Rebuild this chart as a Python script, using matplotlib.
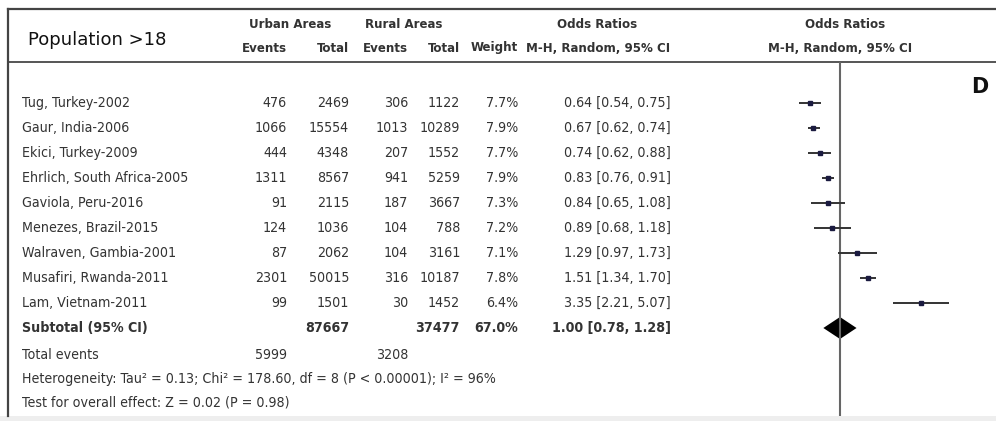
import numpy as np
import matplotlib.pyplot as plt
from matplotlib import font_manager
from matplotlib.font_manager import FontProperties
from matplotlib.textpath import TextPath

studies = ["Tug, Turkey-2002", "Gaur, India-2006", "Ekici, Turkey-2009",
           "Ehrlich, South Africa-2005", "Gaviola, Peru-2016", "Menezes, Brazil-2015",
           "Walraven, Gambia-2001", "Musafiri, Rwanda-2011", "Lam, Vietnam-2011"]
urban_events = [476, 1066, 444, 1311, 91, 124, 87, 2301, 99]
urban_total = [2469, 15554, 4348, 8567, 2115, 1036, 2062, 50015, 1501]
rural_events = [306, 1013, 207, 941, 187, 104, 104, 316, 30]
rural_total = [1122, 10289, 1552, 5259, 3667, 788, 3161, 10187, 1452]
weights = [7.7, 7.9, 7.7, 7.9, 7.3, 7.2, 7.1, 7.8, 6.4]
odds = [0.64, 0.67, 0.74, 0.83, 0.84, 0.89, 1.29, 1.51, 3.35]
ci_low = [0.54, 0.62, 0.62, 0.76, 0.65, 0.68, 0.97, 1.34, 2.21]
ci_high = [0.75, 0.74, 0.88, 0.91, 1.08, 1.18, 1.73, 1.70, 5.07]

sub_urban_total = 87667
sub_rural_total = 37477
sub_weight = 67.0
sub_or, sub_low, sub_high = 1.00, 0.78, 1.28
events_urban, events_rural = 5999, 3208
het_text = "Heterogeneity: Tau\u00b2 = 0.13; Chi\u00b2 = 178.60, df = 8 (P < 0.00001); I\u00b2 = 96%"
effect_text = "Test for overall effect: Z = 0.02 (P = 0.98)"


def find_font(candidates):
    files = [f.fname for f in font_manager.fontManager.ttflist]
    for c in candidates:
        for f in files:
            if f.endswith(c):
                return FontProperties(fname=f)
    return FontProperties(family="DejaVu Sans")


fp_reg = find_font(["LiberationSansNarrow-Regular.ttf", "DejaVuSansCondensed.ttf"])
fp_bold = find_font(["LiberationSansNarrow-Bold.ttf", "DejaVuSansCondensed-Bold.ttf"])


def fit_size(s, fp, target_px, base=10.0):
    w = TextPath((0, 0), s, size=base, prop=fp).get_extents().width
    return base * target_px / (w * 100 / 72)


fs = fit_size(het_text, fp_reg, 472)
fs_b = fit_size("M-H, Random, 95% CI", fp_bold, 142)

W, H = 996, 421
fig = plt.figure(figsize=(W / 100, H / 100), dpi=100)
ax = fig.add_axes([0, 0, 1, 1])
ax.set_xlim(0, W)
ax.set_ylim(H, 0)
ax.axis("off")

txt = "#333333"
row_y = 103 + 25 * np.arange(len(studies) + 1)

# frame lines
ax.plot([8, W], [9, 9], color="#444444", lw=1.6)
ax.plot([8, W], [61.5, 61.5], color="#555555", lw=1.4)
ax.plot([8, 8], [9, 416], color="#444444", lw=1.6)
ax.axhspan(416, H, color="#eeeeee", lw=0)

# header
ax.text(28, 40, "Population >18", fontsize=13, family="DejaVu Sans",
        color="#111111", va="center", ha="left")
hdr = dict(fontproperties=fp_bold, color=txt, va="center")
for x, y, s, ha in [
        (290, 24, "Urban Areas", "center"), (404, 24, "Rural Areas", "center"),
        (597, 24, "Odds Ratios", "center"), (845, 24, "Odds Ratios", "center"),
        (287, 48, "Events", "right"), (349, 48, "Total", "right"),
        (408, 48, "Events", "right"), (460, 48, "Total", "right"),
        (518, 48, "Weight", "right"), (670, 48, "M-H, Random, 95% CI", "right"),
        (840, 48, "M-H, Random, 95% CI", "center")]:
    t = ax.text(x, y, s, ha=ha, **hdr)
    t.set_fontsize(fs_b)
ax.text(980, 87, "D", fontsize=15, family="DejaVu Sans", weight="bold",
        color="#111111", ha="center", va="center")


def put(x, y, s, ha, fp=fp_reg, size=None):
    t = ax.text(x, y, s, ha=ha, va="center", color=txt, fontproperties=fp)
    t.set_fontsize(size or fs)


for i, name in enumerate(studies):
    y = row_y[i]
    put(22, y, name, "left")
    put(287, y, str(urban_events[i]), "right")
    put(349, y, str(urban_total[i]), "right")
    put(408, y, str(rural_events[i]), "right")
    put(460, y, str(rural_total[i]), "right")
    put(518, y, f"{weights[i]:.1f}%", "right")
    put(671, y, f"{odds[i]:.2f} [{ci_low[i]:.2f}, {ci_high[i]:.2f}]", "right")

ys = row_y[-1]
put(22, ys, "Subtotal (95% CI)", "left", fp_bold)
put(349, ys, str(sub_urban_total), "right", fp_bold)
put(460, ys, str(sub_rural_total), "right", fp_bold)
put(518, ys, f"{sub_weight:.1f}%", "right", fp_bold)
put(671, ys, f"{sub_or:.2f} [{sub_low:.2f}, {sub_high:.2f}]", "right", fp_bold)

put(22, 355, "Total events", "left")
put(287, 355, str(events_urban), "right")
put(408, 355, str(events_rural), "right")
put(22, 379, het_text, "left")
put(22, 402, effect_text, "left")

# forest panel on a log odds-ratio scale, OR = 1 at x = 840 px
left, right = 840 - 67 * np.log(8), 840 + 67 * np.log(8)
axf = fig.add_axes([left / W, 0, (right - left) / W, 1])
axf.set_xscale("log")
axf.set_xlim(0.125, 8)
axf.set_ylim(H, 0)
axf.axis("off")
axf.patch.set_alpha(0)

axf.vlines(1, 62, 416, color="#666666", lw=1.5)
axf.hlines(row_y[:-1], ci_low, ci_high, color="#333333", lw=1.4)
for i in range(len(studies)):
    axf.plot(odds[i], row_y[i], marker="s", ms=weights[i] * 0.45,
             color="#1b1b40", mec="#1b1b40", ls="none")

dx = [sub_low, sub_or, sub_high, sub_or]
dy = [ys, ys - 11, ys, ys + 11]
axf.fill(dx, dy, color="black", lw=0)

fig.savefig("out.png", dpi=100)
